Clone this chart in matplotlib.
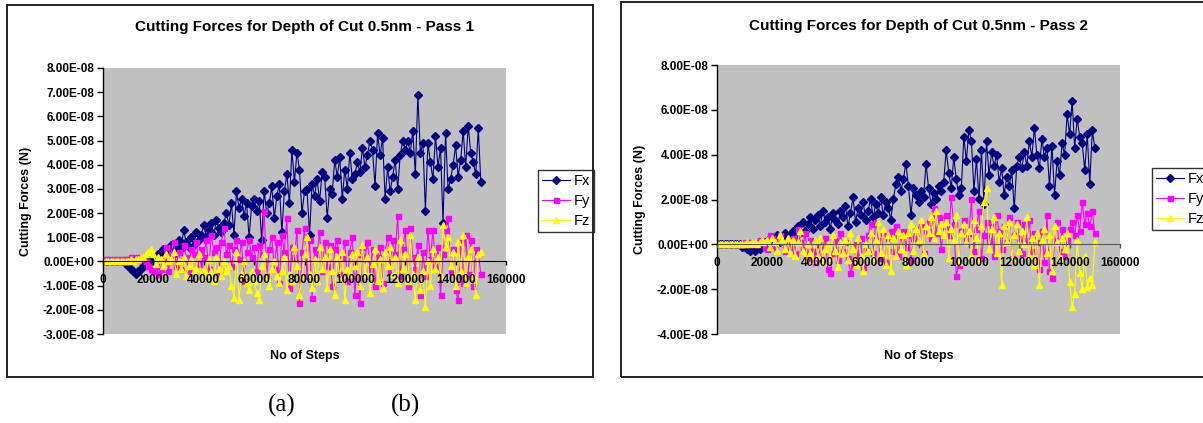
import numpy as np
import matplotlib.pyplot as plt
from matplotlib.patches import Rectangle
from matplotlib.ticker import FuncFormatter, MultipleLocator

plt.rcParams['font.family'] = ['Liberation Sans', 'DejaVu Sans']

# No of steps (sampled every 1000 steps)
steps = np.arange(0, 150001, 1000)

# cutting forces, in units of 1e-8 N
fx_pass1 = [0, 0, 0, 0, 0, 0, 0, 0, 0, -0.1,
            -0.2, -0.3, -0.4, -0.5, -0.4, -0.3, -0.2, 0.0, -0.1, 0.1,
            0.2, 0.1, 0.3, 0.2, 0.5, 0.3, 0.4, 0.7, 0.3, 0.6,
            0.9, 0.5, 1.3, 0.8, 0.6, 1.0, 0.7, 1.2, 0.9, 1.1,
            1.5, 1.0, 1.3, 1.6, 1.1, 1.7, 1.4, 1.2, 1.6, 2.0,
            1.5, 2.4, 1.1, 2.9, 2.2, 2.6, 1.9, 2.4, 1.0, 2.3,
            2.6, 2.1, 2.5, 0.9, 2.9, 2.0, 2.4, 3.1, 1.8, 2.7,
            3.2, 1.2, 2.9, 3.6, 2.4, 4.6, 3.3, 4.5, 3.8, 2.0,
            2.9, 3.0, 1.1, 3.2, 2.7, 3.4, 2.5, 3.7, 3.5, 1.8,
            3.0, 2.8, 4.2, 3.5, 4.3, 2.6, 3.8, 3.0, 4.5, 3.4,
            3.6, 4.1, 3.7, 4.7, 3.9, 4.4, 5.0, 4.6, 3.1, 5.3,
            4.4, 5.1, 2.6, 3.9, 2.9, 3.5, 4.2, 3.0, 4.4, 5.0,
            4.6, 5.0, 4.5, 5.4, 3.6, 6.9, 4.5, 4.9, 2.1, 4.9,
            4.1, 3.4, 5.2, 3.9, 4.7, 1.6, 5.3, 3.0, 3.4, 4.0,
            4.8, 3.5, 4.2, 5.4, 3.9, 5.6, 4.5, 4.1, 3.6, 5.5,
            3.3]
fy_pass1 = [0, 0.1, 0.1, 0, 0.1, 0, 0.1, 0, 0.1, 0.1,
            0.1, 0.2, 0.1, 0.2, 0.1, 0.2, 0.1, 0.0, -0.2, -0.3,
            -0.4, -0.2, -0.5, -0.3, 0.1, 0.6, -0.4, 0.3, 0.8, -0.2,
            0.4, -0.3, 0.7, 0.2, -0.4, 0.5, 0.3, 0.8, -0.1, 0.5,
            0.2, 0.9, -0.3, 1.1, 0.4, 0.6, -0.5, 0.8, 1.4, 0.3,
            0.7, -0.2, 0.5, 0.9, 0.1, 0.8, -0.8, 0.4, 0.9, 0.2,
            0.6, -0.4, 0.7, 0.3, 2.1, -0.6, 0.5, 1.0, -0.3, 0.8,
            -0.9, 1.1, 0.4, 1.8, -1.1, 0.6, 0.2, 1.3, -1.7, 0.4,
            1.4, -0.6, 0.9, -1.5, 0.5, 0.3, 1.2, -0.4, 0.8, -0.2,
            0.7, -1.0, 0.5, 0.9, -0.5, 0.2, 0.8, -0.8, 0.4, 1.0,
            -1.4, 0.3, -1.7, 0.6, 0.1, 0.8, -0.3, 0.5, -1.0, 0.2,
            0.6, -0.9, 0.4, 1.0, -0.4, 0.9, 0.3, 1.9, -0.6, 0.5,
            1.3, -1.0, 1.4, 0.2, -0.3, 0.7, -1.4, 0.4, -0.6, 1.3,
            0.1, 1.3, -0.2, 0.6, -1.4, 0.3, 1.3, 1.8, -0.4, 0.5,
            -1.2, -1.6, 0.8, -0.9, 1.1, -0.5, 0.9, -1.0, 0.5, 0.3,
            -0.5]
fz_pass1 = [0, 0, 0, 0, 0, 0, 0, 0, 0, 0,
            0.0, 0.1, 0.0, 0.1, 0.1, 0.2, 0.2, 0.3, 0.4, 0.5,
            0.3, -0.1, 0.2, 0.1, -0.2, 0.3, 0.0, 0.1, 0.4, -0.5,
            0.0, -0.3, 0.2, -0.6, -0.2, 0.1, -0.4, -0.3, 0.3, -0.7,
            -0.3, -0.5, 0.1, -0.4, -0.8, 0.2, -0.3, -0.6, 0.0, -0.4,
            -0.2, -1.0, -1.5, 0.4, -1.6, -0.5, 0.0, -0.9, -1.2, -0.4,
            -0.8, -1.3, -1.6, -0.2, 0.3, -0.7, -1.0, -0.3, 0.0, -0.6,
            -0.9, -0.4, 0.2, -1.2, -0.5, -0.8, 0.6, -0.2, -1.4, -0.6,
            0.3, 1.0, -0.5, -1.1, 0.1, -0.8, 0.6, -0.3, 0.2, -1.1,
            0.5, -0.4, -1.4, 0.2, -0.7, 0.4, -1.6, -0.3, -0.5, 0.3,
            -0.2, 0.4, -1.0, 0.7, -0.5, 0.2, -1.3, -0.1, 0.5, -0.8,
            0.1, -1.1, 0.4, -0.2, 0.6, -0.5, 0.2, -0.9, 0.9, -0.3,
            0.3, -0.8, 1.1, -0.5, -1.6, 0.2, -1.2, -0.4, -1.9, 0.0,
            -1.0, 0.5, -0.3, 0.2, -0.6, 1.5, 0.6, 1.0, -0.2, 0.4,
            -1.0, 0.8, -0.4, 1.1, -0.9, 0.2, 0.5, -0.6, -1.4, 0.3,
            0.4]

fx_pass2 = [0, 0, 0, 0, 0, 0, 0, 0, 0, 0,
            -0.1, -0.1, -0.2, -0.3, -0.2, -0.3, -0.1, -0.2, 0.0, 0.1,
            0.1, 0.3, 0.0, 0.2, 0.4, 0.1, 0.3, 0.5, 0.2, 0.4,
            0.6, 0.3, 0.8, 0.5, 1.0, 0.6, 0.9, 1.2, 0.7, 1.1,
            1.3, 0.8, 1.5, 1.0, 1.2, 0.7, 1.4, 1.1, 0.9, 1.5,
            1.2, 1.7, 0.8, 1.4, 2.1, 1.0, 1.6, 1.3, 1.9, 1.1,
            1.5, 2.0, 1.2, 1.8, 1.4, 2.1, 1.3, 1.9, 1.6, 1.1,
            2.0, 2.7, 3.0, 2.4, 2.9, 3.6, 2.6, 1.3, 2.5, 2.2,
            1.9, 2.4, 2.1, 3.6, 2.5, 1.8, 2.3, 2.0, 2.6, 2.4,
            2.8, 4.2, 3.2, 2.5, 3.9, 2.9, 2.2, 2.5, 4.8, 3.7,
            5.1, 4.6, 2.4, 3.8, 2.0, 4.2, 1.8, 4.6, 3.1, 4.1,
            3.5, 4.0, 2.8, 3.4, 2.2, 3.0, 2.6, 3.3, 1.6, 3.5,
            3.9, 3.4, 4.1, 3.5, 4.6, 3.9, 5.2, 4.0, 3.4, 4.7,
            3.9, 4.3, 2.6, 4.4, 2.2, 3.7, 3.1, 4.5, 4.0, 5.8,
            4.9, 6.4, 4.3, 5.6, 4.8, 4.5, 3.3, 4.9, 2.7, 5.1,
            4.3]
fy_pass2 = [0, 0, 0, 0, 0, 0, 0, 0, 0, 0,
            0.0, 0.1, 0.0, 0.1, 0.1, 0.0, 0.1, 0.2, 0.1, -0.1,
            -0.2, 0.4, 0.3, -0.1, 0.2, 0.4, 0.1, -0.3, 0.2, -0.1,
            0.3, -0.4, 0.7, 0.1, -0.2, 0.5, -0.6, 0.2, -0.3, -0.8,
            0.1, -0.6, -0.2, 0.3, -1.1, -1.3, -0.4, 0.2, -0.7, 0.5,
            -0.3, 0.1, -0.6, -1.3, -0.9, 0.0, -0.5, 0.3, -1.0, -0.2,
            0.4, 0.9, -0.4, 1.0, 0.2, -0.6, 0.5, -0.8, 0.3, 0.6,
            -0.3, 0.8, -0.5, 0.2, 0.6, -0.1, 0.4, -0.7, 0.3, 0.7,
            0.1, 0.9, -0.4, 0.6, 1.0, 0.3, 1.6, 0.5, 1.2, -0.2,
            0.8, 1.3, 0.4, 2.1, 0.9, -1.4, -0.9, 0.6, 1.1, 0.2,
            0.5, 2.0, -0.3, 0.7, 1.5, -0.6, 0.4, 1.0, 0.2, 0.8,
            -0.5, 1.3, 0.6, -0.2, 0.8, 0.1, 1.2, -0.6, 0.4, 1.0,
            0.3, -0.4, 0.9, 0.2, 1.1, -0.3, 0.5, 0.1, -1.1, 0.6,
            -0.8, 1.3, -1.2, -1.5, 0.2, 1.0, -0.3, 0.7, -0.5, 0.2,
            0.7, 1.0, 0.4, 1.3, 0.6, 1.9, 0.9, 1.4, 0.8, 1.5,
            0.5]
fz_pass2 = [0, 0, 0, 0, 0, 0, 0, 0, 0, 0,
            0.0, 0.0, 0.1, 0.0, 0.1, 0.1, 0.0, 0.1, 0.2, 0.1,
            0.2, -0.1, 0.3, 0.1, -0.3, 0.4, 0.2, -0.2, 0.3, -0.4,
            0.2, -0.5, 0.1, 0.6, -0.3, -0.6, 0.0, -0.4, -0.7, 0.2,
            -0.5, 0.3, -0.8, -0.2, 0.0, -0.6, 0.4, -0.3, -1.0, 0.1,
            -0.4, 0.2, -0.7, 0.5, -0.2, -0.9, 0.3, -0.5, -1.2, 0.0,
            -0.3, 0.5, -0.6, 0.2, 1.0, -0.4, 0.7, -0.9, 0.4, -1.2,
            0.3, -0.5, 0.6, -0.2, 0.4, -0.9, 0.5, 0.9, -0.3, 0.7,
            0.2, 1.1, -0.4, 0.8, 0.5, 1.2, 0.3, 1.5, 0.6, 0.9,
            0.4, 1.0, -0.6, 0.7, 0.2, 1.3, -0.8, 0.5, 0.9, 0.1,
            0.6, -0.5, 1.1, 0.3, -0.7, 0.8, 1.9, 2.5, -0.2, 0.7,
            1.2, -0.4, 0.5, -1.8, 0.8, 0.1, 1.0, -0.6, 0.4, 0.9,
            -0.3, 0.6, 0.0, 1.2, -0.5, 0.3, -0.9, 0.5, -1.8, 0.2,
            0.7, -0.4, 0.4, -1.2, 0.8, 0.1, -0.6, 0.3, -0.2, 0.5,
            -1.7, -2.8, -2.2, 0.2, -1.3, -2.0, -0.5, -1.9, -1.5, -1.8,
            0.1]

titles = ['Cutting Forces for Depth of Cut 0.5nm - Pass 1',
          'Cutting Forces for Depth of Cut 0.5nm - Pass 2']

W, H = 1203, 423
fig = plt.figure(figsize=(W / 100, H / 100), dpi=100)


def px(x0, y0, x1, y1):
    # pixel box -> figure fraction [left, bottom, width, height]
    return [x0 / W, 1 - y1 / H, (x1 - x0) / W, (y1 - y0) / H]


def chart(box, plot, legend_xy, fx, fy, fz, title, ylim, ystep, zero_col):
    fig.patches.append(Rectangle((box[0], box[1]), box[2], box[3], transform=fig.transFigure,
                                 fill=False, edgecolor='#222222', linewidth=1.4))
    ax = fig.add_axes(plot)
    ax.set_facecolor('#C0C0C0')
    ax.set_axisbelow(False)
    sc = 1e-8
    ax.plot(steps, np.array(fx) * sc, color='#000080', marker='D', ms=3.6, lw=0.8, label='Fx')
    ax.plot(steps, np.array(fy) * sc, color='#FF00FF', marker='s', ms=3.6, lw=0.8, label='Fy')
    ax.plot(steps, np.array(fz) * sc, color='#FFFF00', marker='^', ms=4.2, lw=0.8, label='Fz')
    ax.set_xlim(0, 160000)
    ax.set_ylim(*ylim)
    ax.xaxis.set_major_locator(MultipleLocator(20000))
    ax.yaxis.set_major_locator(MultipleLocator(ystep))
    ax.yaxis.set_major_formatter(FuncFormatter(lambda v, p: f'{v:.2E}'))
    ax.spines['top'].set_visible(False)
    ax.spines['right'].set_visible(False)
    ax.spines['bottom'].set_position(('data', 0))
    ax.spines['bottom'].set_color(zero_col)
    ax.spines['left'].set_linewidth(1.0)
    ax.tick_params(axis='y', direction='out', length=4, width=1, labelsize=8.5, pad=2)
    ax.tick_params(axis='x', direction='out', length=3, width=1, labelsize=8.5, pad=6,
                   color=zero_col)
    for lab in ax.get_xticklabels() + ax.get_yticklabels():
        lab.set_fontweight('bold')
    cx = plot[0] + plot[2] / 2
    fig.text(cx, title[1], title[0], ha='center', va='center', fontsize=11, fontweight='bold')
    fig.text(cx, 1 - 356 / H, 'No of Steps', ha='center', va='center', fontsize=9,
             fontweight='bold')
    fig.text(box[0] + 19 / W, plot[1] + plot[3] / 2, 'Cutting Forces (N)', rotation=90,
             ha='center', va='center', fontsize=9, fontweight='bold')
    leg = ax.legend(loc='upper left', bbox_to_anchor=legend_xy, bbox_transform=fig.transFigure,
                    fontsize=10.5, frameon=True, fancybox=False, borderpad=0.3,
                    handlelength=1.9, handletextpad=0.25, labelspacing=0.4,
                    borderaxespad=0)
    leg.get_frame().set_edgecolor('black')
    leg.get_frame().set_linewidth(1.0)
    return ax


chart(px(7, 5, 593, 377), px(103, 68, 506, 334), (538 / W, 1 - 170 / H),
      fx_pass1, fy_pass1, fz_pass1, (titles[0], 1 - 27 / H), (-3e-8, 8e-8), 1e-8, 'black')
chart(px(621, 2, 1215, 377), px(717, 65, 1120, 334), (1152 / W, 1 - 168 / H),
      fx_pass2, fy_pass2, fz_pass2, (titles[1], 1 - 26 / H), (-4e-8, 8e-8), 2e-8, '#555555')

fig.text(282 / W, 1 - 405 / H, '(a)', ha='center', va='center', fontsize=18,
         family='Liberation Serif')
fig.text(405 / W, 1 - 405 / H, '(b)', ha='center', va='center', fontsize=18,
         family='Liberation Serif')

fig.savefig('out.png', dpi=100)
